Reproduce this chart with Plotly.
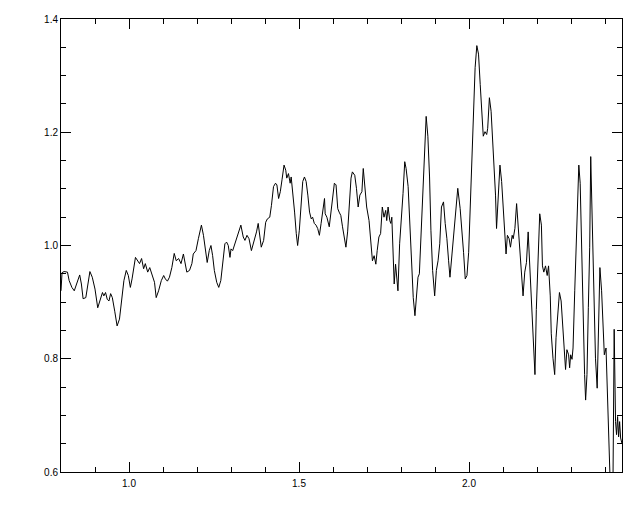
import plotly.graph_objects as go

wavelength = [
    0.800, 0.803, 0.809, 0.819, 0.824, 0.832, 0.839, 0.844, 0.849, 0.855,
    0.860, 0.865, 0.873, 0.881, 0.885, 0.892, 0.900, 0.908, 0.915, 0.922,
    0.926, 0.931, 0.936, 0.941, 0.946, 0.951, 0.958, 0.965, 0.972, 0.980,
    0.985, 0.992, 0.998, 1.004, 1.009, 1.019, 1.026, 1.031, 1.037, 1.043,
    1.048, 1.055, 1.061, 1.068, 1.075, 1.080, 1.087, 1.095, 1.102, 1.107,
    1.113, 1.119, 1.126, 1.133, 1.139, 1.146, 1.153, 1.160, 1.165, 1.170,
    1.178, 1.185, 1.189, 1.197, 1.204, 1.213, 1.219, 1.224, 1.230, 1.236,
    1.241, 1.246, 1.251, 1.258, 1.264, 1.270, 1.275, 1.282, 1.287, 1.292,
    1.297, 1.300, 1.305, 1.311, 1.318, 1.324, 1.329, 1.336, 1.341, 1.347,
    1.353, 1.360, 1.367, 1.375, 1.380, 1.385, 1.389, 1.396, 1.402, 1.407,
    1.414, 1.419, 1.425, 1.431, 1.435, 1.440, 1.445, 1.450, 1.456, 1.461,
    1.464, 1.469, 1.474, 1.477, 1.482, 1.487, 1.492, 1.496, 1.501, 1.506,
    1.511, 1.516, 1.521, 1.526, 1.531, 1.536, 1.540, 1.545, 1.550, 1.555,
    1.560, 1.565, 1.570, 1.575, 1.577, 1.582, 1.589, 1.594, 1.599, 1.604,
    1.609, 1.614, 1.618, 1.623, 1.628, 1.634, 1.638, 1.643, 1.648, 1.653,
    1.657, 1.664, 1.669, 1.674, 1.679, 1.685, 1.689, 1.694, 1.699, 1.706,
    1.711, 1.716, 1.721, 1.726, 1.730, 1.735, 1.740, 1.745, 1.750, 1.755,
    1.758, 1.762, 1.767, 1.770, 1.773, 1.776, 1.780, 1.784, 1.787, 1.791,
    1.796, 1.801, 1.806, 1.811, 1.815, 1.821, 1.826, 1.831, 1.836, 1.841,
    1.846, 1.850, 1.854, 1.860, 1.865, 1.869, 1.874, 1.879, 1.884, 1.888,
    1.893, 1.899, 1.904, 1.909, 1.914, 1.919, 1.925, 1.930, 1.935, 1.940,
    1.944, 1.950, 1.957, 1.961, 1.967, 1.974, 1.979, 1.984, 1.989, 1.994,
    1.999, 2.004, 2.008, 2.013, 2.018, 2.023, 2.028, 2.033, 2.037, 2.042,
    2.047, 2.052, 2.055, 2.060, 2.065, 2.070, 2.075, 2.078, 2.081, 2.086,
    2.091, 2.096, 2.101, 2.106, 2.109, 2.113, 2.118, 2.122, 2.127, 2.130,
    2.135, 2.140, 2.145, 2.150, 2.154, 2.159, 2.164, 2.169, 2.174, 2.179,
    2.184, 2.189, 2.194, 2.198, 2.203, 2.208, 2.213, 2.216, 2.220, 2.225,
    2.230, 2.234, 2.239, 2.242, 2.247, 2.252, 2.256, 2.261, 2.266, 2.271,
    2.276, 2.281, 2.284, 2.288, 2.293, 2.296, 2.299, 2.303, 2.306, 2.311,
    2.315, 2.320, 2.323, 2.327, 2.330, 2.335, 2.340, 2.343, 2.347, 2.351,
    2.355, 2.358, 2.362, 2.367, 2.372, 2.377, 2.381, 2.385, 2.390, 2.395,
    2.398, 2.403, 2.406, 2.413, 2.417, 2.423, 2.427, 2.431, 2.434, 2.437,
    2.440, 2.443, 2.446, 2.450,
]

flux = [
    0.920, 0.952, 0.954, 0.953, 0.938, 0.926, 0.920, 0.929, 0.938, 0.948,
    0.932, 0.906, 0.908, 0.938, 0.954, 0.944, 0.923, 0.890, 0.902, 0.917,
    0.911, 0.917, 0.905, 0.902, 0.915, 0.908, 0.884, 0.858, 0.870, 0.908,
    0.938, 0.956, 0.947, 0.926, 0.941, 0.979, 0.973, 0.968, 0.977, 0.959,
    0.968, 0.953, 0.961, 0.947, 0.935, 0.908, 0.920, 0.938, 0.947, 0.941,
    0.937, 0.944, 0.961, 0.986, 0.973, 0.977, 0.968, 0.985, 0.968, 0.953,
    0.956, 0.968, 0.985, 0.991, 1.012, 1.036, 1.018, 0.997, 0.970, 0.991,
    1.000, 0.982, 0.956, 0.935, 0.926, 0.938, 0.967, 1.003, 1.006, 1.000,
    0.979, 0.994, 0.991, 1.003, 1.015, 1.030, 1.036, 1.015, 1.009, 1.018,
    1.012, 0.991, 1.006, 1.024, 1.039, 1.015, 0.997, 1.009, 1.041, 1.047,
    1.050, 1.071, 1.104, 1.110, 1.107, 1.083, 1.095, 1.116, 1.142, 1.133,
    1.119, 1.127, 1.110, 1.121, 1.095, 1.059, 1.021, 1.000, 1.027, 1.077,
    1.113, 1.121, 1.113, 1.089, 1.059, 1.047, 1.050, 1.039, 1.036, 1.030,
    1.018, 1.039, 1.065, 1.083, 1.056, 1.050, 1.033, 1.059, 1.095, 1.110,
    1.107, 1.065, 1.059, 1.053, 1.033, 1.012, 0.997, 1.024, 1.083, 1.119,
    1.130, 1.124, 1.101, 1.068, 1.089, 1.095, 1.136, 1.095, 1.068, 1.044,
    1.003, 0.973, 0.982, 0.967, 0.991, 1.015, 1.021, 1.068, 1.050, 1.062,
    1.044, 1.068, 1.044, 1.039, 1.050, 0.991, 0.932, 0.967, 0.944, 0.920,
    1.003, 1.044, 1.092, 1.148, 1.136, 1.104, 1.033, 0.961, 0.908, 0.876,
    0.908, 0.944, 0.950, 1.033, 1.121, 1.187, 1.228, 1.193, 1.121, 1.027,
    0.956, 0.911, 0.956, 0.973, 1.003, 1.068, 1.077, 1.039, 1.012, 0.973,
    0.944, 0.985, 1.033, 1.068, 1.101, 1.065, 1.030, 0.988, 0.941, 0.947,
    0.988, 1.077, 1.154, 1.243, 1.314, 1.353, 1.338, 1.284, 1.243, 1.193,
    1.201, 1.196, 1.207, 1.261, 1.237, 1.178, 1.136, 1.089, 1.030, 1.095,
    1.142, 1.113, 1.065, 1.018, 0.985, 1.018, 1.012, 0.997, 1.018, 1.012,
    1.030, 1.074, 1.030, 0.982, 0.947, 0.911, 0.953, 0.970, 1.024, 0.959,
    0.887, 0.840, 0.772, 0.887, 0.988, 1.056, 1.036, 0.964, 0.953, 0.964,
    0.947, 0.964, 0.911, 0.844, 0.801, 0.772, 0.837, 0.879, 0.917, 0.902,
    0.849, 0.813, 0.781, 0.816, 0.807, 0.784, 0.807, 0.799, 0.819, 0.920,
    1.009, 1.104, 1.142, 1.110, 1.021, 0.890, 0.772, 0.727, 0.772, 0.890,
    0.997, 1.157, 1.068, 0.920, 0.801, 0.748, 0.861, 0.961, 0.920, 0.831,
    0.807, 0.819, 0.772, 0.653, 0.547, 0.547, 0.852, 0.689, 0.666, 0.698,
    0.662, 0.689, 0.660, 0.650,
]

x_ticks = [1.0, 1.5, 2.0]
y_ticks = [0.6, 0.8, 1.0, 1.2, 1.4]

fig = go.Figure(
    go.Scatter(
        x=wavelength, y=flux, mode="lines",
        line=dict(color="black", width=1),
        hoverinfo="skip",
    )
)

axis_common = dict(
    showline=True, linecolor="black", linewidth=1, mirror="allticks",
    ticks="inside", ticklen=10, tickwidth=1, tickcolor="black",
    showgrid=False, zeroline=False,
    tickfont=dict(family="Liberation Sans, Arial, sans-serif", size=10, color="black"),
)

fig.update_xaxes(
    range=[0.8, 2.45], tickvals=x_ticks, ticktext=[f"{v:.1f}" for v in x_ticks],
    minor=dict(dtick=0.1, tick0=0.8, ticks="inside", ticklen=5, tickcolor="black", showgrid=False),
    ticklabelstandoff=2,
    **axis_common,
)
fig.update_yaxes(
    range=[0.6, 1.4], tickvals=y_ticks, ticktext=[f"{v:.1f}" for v in y_ticks],
    minor=dict(dtick=0.05, tick0=0.6, ticks="inside", ticklen=5, tickcolor="black", showgrid=False),
    ticklabelstandoff=0,
    **axis_common,
)

# the page adds an 8px body margin, so the figure is sized to land the
# plot frame at the reference position
fig.update_layout(
    width=624, height=496,
    margin=dict(l=53, r=10, t=11, b=32, autoexpand=False),
    paper_bgcolor="white", plot_bgcolor="white",
    showlegend=False,
)

fig.write_html("out.html")
